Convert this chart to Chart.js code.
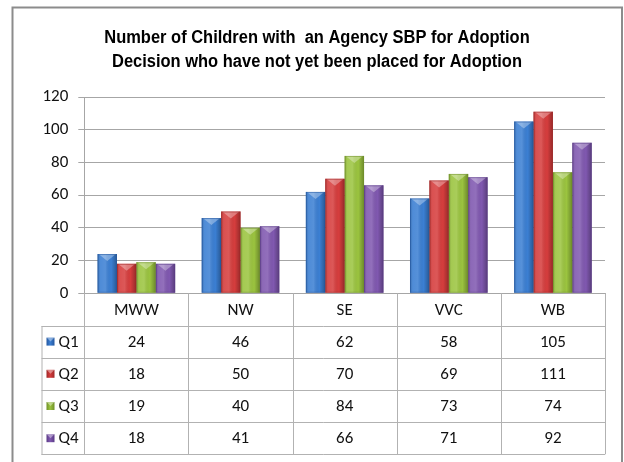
<!DOCTYPE html>
<html>
<head>
<meta charset="utf-8">
<script src="https://cdn.jsdelivr.net/npm/chart.js@4.4.1/dist/chart.umd.min.js"></script>
<style>
  html, body { margin: 0; padding: 0; background: #ffffff; }
  #wrap { width: 624px; height: 462px; position: relative; }
</style>
</head>
<body>
<div id="wrap"><canvas id="c" width="624" height="462"></canvas></div>
<script>
// ---- data ----
const categories = ['MWW', 'NW', 'SE', 'VVC', 'WB'];
const seriesNames = ['Q1', 'Q2', 'Q3', 'Q4'];
const q1Values = [24, 46, 62, 58, 105];
const q2Values = [18, 50, 70, 69, 111];
const q3Values = [19, 40, 84, 73, 74];
const q4Values = [18, 41, 66, 71, 92];
const yMin = 0, yMax = 120, yStep = 20;
const titleLines = ['Number of Children with  an Agency SBP for Adoption',
                    'Decision who have not yet been placed for Adoption'];

// ---- styles ----
const seriesColors = ['#3b7fd3', '#d63d3d', '#9bc43f', '#8058b0'];
const seriesDark = ['#2558a0', '#a02828', '#6f9028', '#5a3a86'];

function fontAvailable(name) {
  const cv = document.createElement('canvas').getContext('2d');
  const s = 'abcdefghijklmnopqrstuvwxyz0123456789';
  cv.font = '20px monospace';
  const w1 = cv.measureText(s).width;
  cv.font = '20px "' + name + '", monospace';
  const w2 = cv.measureText(s).width;
  return w1 !== w2;
}
const carlitoOK = fontAvailable('Carlito');
const bodyFamily = carlitoOK ? 'Carlito, Calibri, Lato, sans-serif' : 'Lato, "Open Sans", sans-serif';
const bodySize = carlitoOK ? 17 : 15;
const titleFont = 'bold 18px "Liberation Sans", Arial, sans-serif';
const titleScaleX = 0.915;
const titleCenterX = 317;
const titleBaselines = [42.7, 66.7];

const seriesData = [q1Values, q2Values, q3Values, q4Values];
const datasets = seriesNames.map((n, i) => ({
  label: n,
  data: seriesData[i],
  backgroundColor: seriesColors[i],
  borderWidth: 0,
  categoryPercentage: 0.745,
  barPercentage: 1.0
}));

const ROW_H = 32.2;
const TABLE_LEFT = 41.5;
const lineColor = '#b2b2b2';

const framePlugin = {
  id: 'frame',
  beforeDraw(chart) {
    const ctx = chart.ctx;
    ctx.save();
    ctx.fillStyle = '#ffffff';
    ctx.fillRect(0, 0, chart.width, chart.height);
    ctx.strokeStyle = '#8c8c8c';
    ctx.lineWidth = 2;
    ctx.strokeRect(12.5, 7.5, 609.5, 480);
    // title (condensed rendering)
    ctx.fillStyle = '#000000';
    ctx.font = titleFont;
    ctx.textAlign = 'center';
    ctx.textBaseline = 'alphabetic';
    titleLines.forEach((line, i) => {
      ctx.save();
      ctx.translate(titleCenterX, titleBaselines[i]);
      ctx.scale(titleScaleX, 1);
      ctx.fillText(line, 0, 0);
      ctx.restore();
    });
    ctx.restore();
  }
};

const bevelPlugin = {
  id: 'bevel',
  afterDatasetsDraw(chart) {
    const ctx = chart.ctx;
    chart.data.datasets.forEach((ds, di) => {
      const meta = chart.getDatasetMeta(di);
      meta.data.forEach(el => {
        const p = el.getProps(['x', 'y', 'base', 'width'], true);
        const l = p.x - p.width / 2, r = p.x + p.width / 2;
        const t = Math.min(p.y, p.base), b = Math.max(p.y, p.base);
        ctx.save();
        const g = ctx.createLinearGradient(l, 0, r, 0);
        g.addColorStop(0, 'rgba(0,0,0,0.22)');
        g.addColorStop(0.15, 'rgba(255,255,255,0.10)');
        g.addColorStop(0.4, 'rgba(255,255,255,0.14)');
        g.addColorStop(0.7, 'rgba(0,0,0,0.0)');
        g.addColorStop(1, 'rgba(0,0,0,0.30)');
        ctx.fillStyle = g;
        ctx.fillRect(l, t, r - l, b - t);
        const h = Math.min(7, (b - t));
        ctx.beginPath();
        ctx.moveTo(l + 1, t);
        ctx.lineTo(r - 1, t);
        ctx.lineTo(p.x, t + h);
        ctx.closePath();
        ctx.fillStyle = 'rgba(255,255,255,0.32)';
        ctx.fill();
        ctx.strokeStyle = seriesDark[di];
        ctx.globalAlpha = 0.55;
        ctx.lineWidth = 1;
        ctx.strokeRect(l + 0.5, t + 0.5, r - l - 1, b - t - 1);
        ctx.restore();
      });
    });
  }
};

const tablePlugin = {
  id: 'dataTable',
  afterDraw(chart) {
    const ctx = chart.ctx;
    const xs = chart.scales.x;
    const area = chart.chartArea;
    const n = categories.length;
    const catW = (area.right - area.left) / n;
    const top = area.bottom;
    const bottom = top + ROW_H * (seriesNames.length + 1);
    ctx.save();
    ctx.strokeStyle = lineColor;
    ctx.lineWidth = 1;
    ctx.beginPath();
    for (let i = 0; i <= n; i++) {
      const x = Math.round(area.left + i * catW) + 0.5;
      ctx.moveTo(x, top);
      ctx.lineTo(x, bottom);
    }
    for (let k = 1; k <= seriesNames.length + 1; k++) {
      const y = Math.round(top + k * ROW_H) + 0.5;
      ctx.moveTo(TABLE_LEFT, y);
      ctx.lineTo(area.right, y);
    }
    ctx.moveTo(TABLE_LEFT + 0.5, Math.round(top + ROW_H));
    ctx.lineTo(TABLE_LEFT + 0.5, Math.round(bottom) + 1);
    ctx.stroke();

    ctx.font = bodySize + 'px ' + bodyFamily;
    ctx.textBaseline = 'middle';
    seriesNames.forEach((name, si) => {
      const cy = top + ROW_H * (si + 1.5);
      ctx.textAlign = 'center';
      ctx.fillStyle = '#111111';
      seriesData[si].forEach((v, ci) => {
        ctx.fillText(String(v), xs.getPixelForValue(ci), cy + 1);
      });
      const kx = 46.5, ks = 8;
      const g = ctx.createLinearGradient(kx, 0, kx + ks, 0);
      g.addColorStop(0, seriesDark[si]);
      g.addColorStop(0.45, seriesColors[si]);
      g.addColorStop(1, seriesDark[si]);
      ctx.fillStyle = g;
      ctx.fillRect(kx, cy - ks / 2, ks, ks);
      ctx.fillStyle = 'rgba(255,255,255,0.4)';
      ctx.beginPath();
      ctx.moveTo(kx, cy - ks / 2);
      ctx.lineTo(kx + ks, cy - ks / 2);
      ctx.lineTo(kx + ks / 2, cy);
      ctx.closePath();
      ctx.fill();
      ctx.textAlign = 'left';
      ctx.fillStyle = '#111111';
      ctx.fillText(name, 58.5, cy + 1);
    });
    ctx.restore();
  }
};

new Chart(document.getElementById('c'), {
  type: 'bar',
  data: { labels: categories, datasets: datasets },
  plugins: [framePlugin, bevelPlugin, tablePlugin],
  options: {
    responsive: false,
    animation: false,
    layout: { padding: { left: 0, right: 19, top: 97, bottom: 462 - 293.3 - ROW_H } },
    plugins: {
      legend: { display: false },
      tooltip: { enabled: false },
      title: { display: false }
    },
    scales: {
      x: {
        afterFit(s) { s.height = ROW_H; },
        grid: { display: false, drawTicks: false },
        border: { display: true, color: '#a6a6a6', width: 1 },
        ticks: { color: '#111111', font: { family: bodyFamily, size: bodySize }, padding: 7, maxRotation: 0 }
      },
      y: {
        min: yMin, max: yMax,
        afterFit(s) { s.width = 84.3; },
        grid: { color: '#a6a6a6', lineWidth: 1, drawTicks: true, tickLength: 6 },
        border: { display: true, color: '#a6a6a6', width: 1 },
        ticks: { stepSize: yStep, color: '#111111', font: { family: bodyFamily, size: bodySize }, padding: 10 }
      }
    }
  }
});
</script>
</body>
</html>
